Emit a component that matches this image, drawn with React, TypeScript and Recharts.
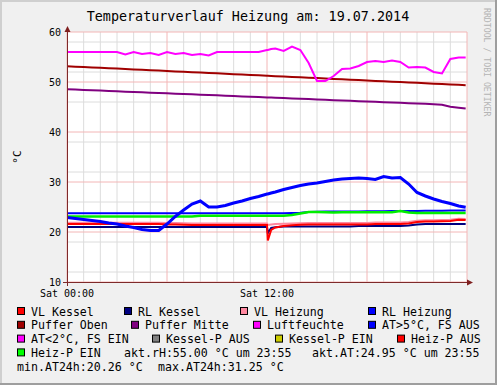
import React from "react";
import { LineChart, Line, XAxis, YAxis, CartesianGrid } from "recharts";

// sample times in hours of the day
const hours = [
  0, 0.5, 1, 1.5, 2, 2.5, 3, 3.5, 4, 4.5, 5, 5.5, 6, 6.5, 7, 7.5, 8, 8.5, 9, 9.5, 10, 10.5, 11, 11.5,
  12, 12.05, 12.25, 12.5, 13, 13.5, 14, 14.5, 15, 15.5, 16, 16.5, 17, 17.5, 18, 18.5, 19, 19.5, 20,
  20.5, 21, 21.5, 22, 22.5, 23, 23.5, 23.92,
];

const vlHeizung = [
  21.85, 21.85, 21.85, 21.85, 21.85, 21.85, 21.85, 21.85, 21.85, 21.85, 21.85, 21.85, 21.8, 21.8, 21.75, 21.7,
  21.7, 21.7, 21.7, 21.7, 21.7, 21.7, 21.7, 21.7, 21.7, 21.4, 21.5, 21.6, 21.65, 21.7, 21.75, 21.8, 21.8, 21.8,
  21.8, 21.8, 21.8, 21.8, 21.8, 21.9, 21.9, 21.9, 21.9, 22.0, 22.25, 22.35, 22.35, 22.4, 22.45, 22.65, 22.6,
];
const vlKessel = [
  21.6, 21.6, 21.6, 21.6, 21.6, 21.6, 21.6, 21.6, 21.6, 21.6, 21.6, 21.6, 21.5, 21.5, 21.45, 21.4,
  21.4, 21.4, 21.4, 21.4, 21.4, 21.4, 21.4, 21.4, 21.4, 18.3, 20.4, 20.9, 21.2, 21.35, 21.45, 21.5, 21.5, 21.5,
  21.5, 21.5, 21.5, 21.5, 21.5, 21.6, 21.6, 21.6, 21.6, 21.7, 22.0, 22.1, 22.1, 22.15, 22.2, 22.45, 22.4,
];
const rlKessel = [
  21.0, 21.0, 21.0, 21.0, 21.0, 21.0, 21.0, 21.0, 21.0, 21.0, 21.0, 21.0, 21.0, 21.0, 21.0, 21.0,
  21.0, 21.0, 21.0, 21.0, 21.0, 21.0, 21.0, 21.0, 21.0, 19.8, 20.8, 20.95, 21.1, 21.1, 21.1, 21.1, 21.1, 21.1,
  21.1, 21.1, 21.1, 21.2, 21.2, 21.2, 21.2, 21.2, 21.2, 21.3, 21.5, 21.6, 21.6, 21.6, 21.6, 21.6, 21.6,
];
const rlHeizung = [
  23.75, 23.75, 23.75, 23.75, 23.75, 23.75, 23.75, 23.75, 23.75, 23.75, 23.75, 23.75, 23.75, 23.75, 23.75, 23.75,
  23.75, 23.75, 23.75, 23.75, 23.75, 23.75, 23.75, 23.75, 23.75, 23.75, 23.75, 23.75, 23.75, 23.8, 23.85, 24.0,
  24.05, 24.1, 24.1, 24.1, 24.1, 24.1, 24.15, 24.15, 24.15, 24.2, 24.2, 24.2, 24.2, 24.25, 24.25, 24.25, 24.3,
  24.3, 24.3,
];
const pufferOben = [
  53.15, 53.07, 52.99, 52.91, 52.83, 52.75, 52.68, 52.6, 52.52, 52.44, 52.36, 52.28, 52.2, 52.12, 52.04, 51.97,
  51.89, 51.81, 51.73, 51.65, 51.57, 51.49, 51.41, 51.33, 51.25, 51.24, 51.21, 51.17, 51.1, 51.02, 50.94, 50.86,
  50.78, 50.7, 50.62, 50.54, 50.46, 50.38, 50.3, 50.22, 50.15, 50.07, 49.99, 49.91, 49.83, 49.75, 49.67, 49.59,
  49.51, 49.43, 49.37,
];
const pufferMitte = [
  48.55, 48.48, 48.41, 48.35, 48.28, 48.21, 48.14, 48.07, 48.01, 47.94, 47.87, 47.8, 47.73, 47.67, 47.6, 47.53,
  47.46, 47.39, 47.33, 47.26, 47.19, 47.12, 47.05, 46.99, 46.92, 46.91, 46.88, 46.85, 46.78, 46.71, 46.65, 46.58,
  46.51, 46.44, 46.37, 46.31, 46.24, 46.17, 46.1, 46.03, 45.97, 45.9, 45.83, 45.76, 45.69, 45.63, 45.56, 45.45,
  45.05, 44.85, 44.7,
];
const luftfeuchte = [
  56.0, 56.0, 56.0, 56.0, 56.0, 56.0, 56.0, 55.5, 56.0, 55.6, 55.8, 55.4, 56.0, 55.6, 55.8, 55.4,
  55.6, 55.3, 56.0, 56.0, 56.0, 56.0, 56.0, 56.0, 56.4, 56.4, 56.6, 56.7, 56.2, 57.1, 56.4, 53.8,
  50.2, 50.2, 51.2, 52.6, 52.7, 53.2, 54.0, 54.2, 54.0, 54.3, 54.0, 52.9, 53.0, 52.9, 52.0, 51.7,
  54.6, 54.9, 54.9,
];
const heizPEin = [
  23.1, 23.1, 23.1, 23.1, 23.1, 23.1, 23.1, 23.1, 23.1, 23.1, 23.1, 23.1, 23.1, 23.1, 23.1, 23.1,
  23.25, 23.25, 23.25, 23.25, 23.25, 23.25, 23.25, 23.25, 23.25, 23.25, 23.25, 23.25, 23.25, 23.4, 23.7, 24.0,
  24.0, 23.95, 23.9, 23.95, 23.95, 23.95, 23.95, 23.95, 23.95, 23.95, 24.2, 23.9, 23.8, 23.8, 23.8, 23.8,
  23.8, 23.8, 23.8,
];
const aussen = [
  22.9, 22.7, 22.5, 22.3, 22.1, 21.8, 21.6, 21.2, 20.9, 20.5, 20.3, 20.3, 21.6, 23.1, 24.4, 25.6,
  26.2, 25.0, 25.0, 25.3, 25.8, 26.2, 26.7, 27.1, 27.6, 27.6, 27.8, 28.0, 28.5, 28.9, 29.3, 29.6,
  29.8, 30.1, 30.4, 30.6, 30.7, 30.8, 30.7, 30.5, 31.1, 30.8, 30.9, 29.6, 27.9, 27.2, 26.6, 26.1,
  25.7, 25.2, 24.95,
];

const yTicks = [10, 20, 30, 40, 50, 60];
const yMinor = [12, 14, 16, 18, 22, 24, 26, 28, 32, 34, 36, 38, 42, 44, 46, 48, 52, 54, 56, 58];
const xTicks = [0, 12];
const xTickLabels = ["Sat 00:00", "Sat 12:00"];
const xMajor = [0, 6, 12, 18, 24];
const xMinor = [1, 2, 3, 4, 5, 7, 8, 9, 10, 11, 13, 14, 15, 16, 17, 19, 20, 21, 22, 23];

const data = hours.map((t, i) => ({
  t,
  vlHeizung: vlHeizung[i],
  vlKessel: vlKessel[i],
  rlKessel: rlKessel[i],
  rlHeizung: rlHeizung[i],
  pufferOben: pufferOben[i],
  pufferMitte: pufferMitte[i],
  luftfeuchte: luftfeuchte[i],
  heizPEin: heizPEin[i],
  aussen: aussen[i],
}));

// draw order: later ones on top
const series = [
  { key: "vlHeizung", color: "#ff88a0", width: 2 },
  { key: "rlKessel", color: "#000080", width: 2 },
  { key: "vlKessel", color: "#ff0000", width: 2 },
  { key: "rlHeizung", color: "#0000ff", width: 2 },
  { key: "pufferOben", color: "#a00000", width: 2 },
  { key: "pufferMitte", color: "#800080", width: 2 },
  { key: "luftfeuchte", color: "#ff00ff", width: 2 },
  { key: "heizPEin", color: "#00ee00", width: 2.5 },
  { key: "aussen", color: "#0000ff", width: 3 },
];

const legendItems = [
  { label: "VL Kessel", color: "#ff0000", x: 17, row: 0 },
  { label: "RL Kessel", color: "#000080", x: 124, row: 0 },
  { label: "VL Heizung", color: "#ff88a0", x: 240, row: 0 },
  { label: "RL Heizung", color: "#0000ff", x: 368, row: 0 },
  { label: "Puffer Oben", color: "#a00000", x: 17, row: 1 },
  { label: "Puffer Mitte", color: "#800080", x: 131, row: 1 },
  { label: "Luftfeuchte", color: "#ff00ff", x: 253, row: 1 },
  { label: "AT>5°C, FS AUS", color: "#0000ff", x: 368, row: 1 },
  { label: "AT<2°C, FS EIN", color: "#ff00ff", x: 17, row: 2 },
  { label: "Kessel-P AUS", color: "#808080", x: 152, row: 2 },
  { label: "Kessel-P EIN", color: "#cccc00", x: 275, row: 2 },
  { label: "Heiz-P AUS", color: "#ff0000", x: 397, row: 2 },
  { label: "Heiz-P EIN", color: "#00ff00", x: 17, row: 3 },
];

const legendNotes = [
  { text: "akt.rH:55.00 °C um 23:55", x: 124, row: 3 },
  { text: "akt.AT:24.95 °C um 23:55", x: 312, row: 3 },
  { text: "min.AT24h:20.26 °C", x: 17, row: 4 },
  { text: "max.AT24h:31.25 °C", x: 158, row: 4 },
];

const W = 497;
const H = 385;
const MONO = "'DejaVu Sans Mono', monospace";
const rowY = (r: number) => 311.5 + r * 13.8;

export default function App() {
  return (
    <div
      style={{
        position: "absolute",
        left: 0,
        top: 0,
        width: W,
        height: H,
        background: "#f0f0f0",
        fontFamily: MONO,
      }}
    >
      <LineChart
        width={W}
        height={H}
        data={data}
        margin={{ top: 32, right: 30, bottom: 0, left: 0 }}
      >
        <CartesianGrid
          fill="#ffffff"
          stroke="#dcdcdc"
          horizontalValues={yMinor}
          verticalValues={xMinor}
        />
        <CartesianGrid stroke="#f3b6b6" horizontalValues={yTicks} verticalValues={xMajor} />
        <XAxis
          dataKey="t"
          type="number"
          domain={[0, 24]}
          ticks={xTicks}
          tickFormatter={(v: number) => xTickLabels[xTicks.indexOf(v)]}
          axisLine={false}
          tickLine={false}
          tickSize={6}
          tickMargin={2}
          height={103}
          tick={{ fontSize: 10, fill: "#000", fontFamily: MONO }}
          allowDataOverflow
        />
        <YAxis
          type="number"
          domain={[10, 60]}
          ticks={yTicks}
          axisLine={false}
          tickLine={false}
          tickSize={4}
          tickMargin={2}
          width={67}
          tick={{ fontSize: 10, fill: "#000", fontFamily: MONO }}
          allowDataOverflow
        />
        {series.map((s) => (
          <Line
            key={s.key}
            dataKey={s.key}
            type="linear"
            stroke={s.color}
            strokeWidth={s.width}
            dot={false}
            activeDot={false}
            isAnimationActive={false}
          />
        ))}
      </LineChart>

      <svg
        width={W}
        height={H}
        style={{ position: "absolute", left: 0, top: 0, pointerEvents: "none" }}
        fontFamily={MONO}
      >
        {/* frame shading */}
        <rect x={0} y={0} width={W} height={2} fill="#cfcfcf" />
        <rect x={0} y={0} width={2} height={H} fill="#cfcfcf" />
        <rect x={0} y={H - 2} width={W} height={2} fill="#9e9e9e" />
        <rect x={W - 2} y={0} width={2} height={H} fill="#9e9e9e" />

        <text x={248} y={16} textAnchor="middle" dominantBaseline="central" fontSize={13.4} fill="#000">
          Temperaturverlauf Heizung am: 19.07.2014
        </text>
        <text
          transform="translate(487,8) rotate(90)"
          dominantBaseline="central"
          fontSize={8.2}
          fill="#b4b4b4"
        >
          RRDTOOL / TOBI OETIKER
        </text>
        <text
          transform="translate(17,157) rotate(-90)"
          textAnchor="middle"
          dominantBaseline="central"
          fontSize={11}
          fill="#000"
        >
          °C
        </text>

        {/* axes with arrows */}
        <line x1={63} y1={282.5} x2={469} y2={282.5} stroke="#7f2a2a" strokeWidth={1} />
        <polygon points="467,279.5 473,282.5 467,285.5" fill="#7f1f1f" />
        <line x1={67.5} y1={286} x2={67.5} y2={31} stroke="#7f2a2a" strokeWidth={1} />
        <polygon points="64.5,32 67.5,26 70.5,32" fill="#7f1f1f" />

        {legendItems.map((it) => (
          <g key={it.label}>
            <rect
              x={it.x + 0.5}
              y={rowY(it.row) - 4}
              width={7}
              height={7}
              fill={it.color}
              stroke="#000"
              strokeWidth={1}
            />
            <text x={it.x + 14} y={rowY(it.row)} dominantBaseline="central" fontSize={11.6} fill="#000">
              {it.label}
            </text>
          </g>
        ))}
        {legendNotes.map((n) => (
          <text key={n.text} x={n.x} y={rowY(n.row)} dominantBaseline="central" fontSize={11.6} fill="#000">
            {n.text}
          </text>
        ))}
      </svg>
    </div>
  );
}
